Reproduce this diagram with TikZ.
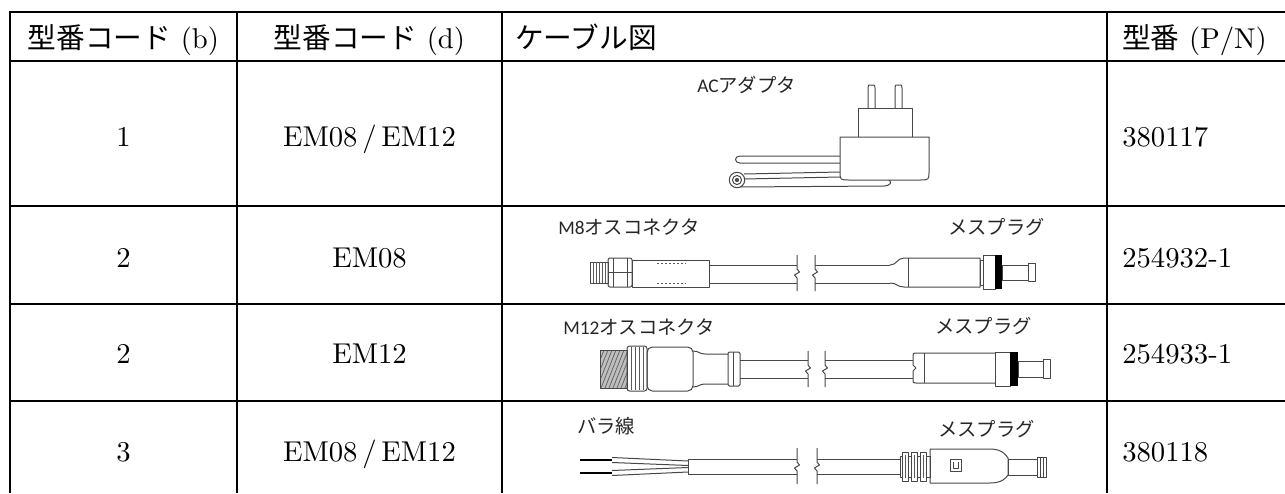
\documentclass[tikz,border=0pt]{standalone}
\usepackage{fontspec}
\setmainfont{lmroman10-regular.otf}
\newfontfamily\cjk{Noto Sans CJK JP}
\newfontfamily\lab{Carlito}
\tikzset{
  gridline/.style={line width=1.5pt, black},
  gl/.style={draw=black!72, line width=0.75pt, line join=round},
  tt/.style={font=\fontsize{21.5}{24}\selectfont, inner sep=0pt, anchor=base},
  lb/.style={font=\fontsize{14.5}{16}\selectfont\cjk, text=black!85, inner sep=0pt, anchor=base west},
  brk/.pic={\draw[gl] (0,-18) -- (0,-4) -- (2.5,-1) -- (-2.5,2) -- (0,5) -- (0,18);}
}
\begin{document}
\begin{tikzpicture}[x=0.75pt,y=-0.75pt]
\path[use as bounding box] (0,0) rectangle (1285,493);
\clip (0,0) rectangle (1285,493);
% ---------- table grid ----------
\foreach \y in {12,61,206,304,401} \draw[gridline] (9,\y) -- (1285,\y);
\foreach \x in {10,237,502,1107} \draw[gridline] (\x,11) -- (\x,493);
% ---------- header ----------
\node[tt] (h1) at (123.5,48) {{\cjk 型番コード} (b)};
\node[tt] (h2) at (369.5,48) {{\cjk 型番コード} (d)};
\node[tt, anchor=base west] (h3) at (515,48) {\cjk ケーブル図};
\node[tt, anchor=base west] (h4) at (1122,48) {{\cjk 型番} (P/N)};
% ---------- body text ----------
\node[tt] (r1a) at (123.5,146) {1};
\node[tt] (r1b) at (369.5,146) {EM08\,/\,EM12};
\node[tt, anchor=base west] (r1d) at (1122,146) {380117};
\node[tt] (r2a) at (123.5,267) {2};
\node[tt] (r2b) at (369.5,267) {EM08};
\node[tt, anchor=base west] (r2d) at (1122,267) {254932-1};
\node[tt] (r3a) at (123.5,363) {2};
\node[tt] (r3b) at (369.5,363) {EM12};
\node[tt, anchor=base west] (r3d) at (1122,363) {254933-1};
\node[tt] (r4a) at (123.5,461) {3};
\node[tt] (r4b) at (369.5,461) {EM08\,/\,EM12};
\node[tt, anchor=base west] (r4d) at (1122,461) {380118};
% ---------- drawing labels ----------
\node[lb] (l1) at (697,92) {{\lab AC}アダプタ};
\node[lb] (l2) at (558,234.5) {{\lab M8}オスコネクタ};
\node[lb] (l3) at (948,234.5) {メスプラグ};
\node[lb] (l4) at (563,334.5) {{\lab M12}オスコネクタ};
\node[lb] (l5) at (935,333.5) {メスプラグ};
\node[lb] (l6) at (577,433.5) {バラ線};
\node[lb] (l7) at (938,436.5) {メスプラグ};
% ---------- row 1: AC adapter ----------
\draw[gl] (868,108) -- (868,88) .. controls (868,85) .. (871.5,85) .. controls (875,85) .. (875,88) -- (875,108);
\draw[gl] (895,108) -- (895,88) .. controls (895,85) .. (898.5,85) .. controls (902,85) .. (902,88) -- (902,108);
\draw[gl] (858,137) -- (858,108) -- (912,108) -- (912,137);
\draw[gl] (840,137) -- (840,171) .. controls (840,180) .. (849,180) -- (920,180) .. controls (929,180) .. (929,171) -- (929,137) -- cycle;
\draw[gl] (840,156) -- (740,156) .. controls (734,156) and (734,163) .. (740,163) -- (840,163);
\draw[gl] (744,174) -- (840,172);
\draw[gl] (744,179) -- (840,177);
\draw[gl] (737,187) -- (884,186) .. controls (891,185.5) and (892,182) .. (889,180);
\draw[gl, fill=white] (737,180) circle[radius=5.8pt];
\draw[gl] (737,180) circle[radius=3.4pt];
\fill[black!70] (737,180) circle[radius=1.6pt];
% ---------- row 2: M8 cable ----------
\draw[gl] (590,262) rectangle (608,283);
\foreach \x in {593,596,599,602,605} \draw[black!65, line width=0.4pt] (\x,262) -- (\x,283);
\draw[gl, rounded corners=1.5] (608,258) rectangle (632,287);
\draw[gl] (613,258) -- (613,287) (627,258) -- (627,287) (608,272.5) -- (632,272.5);
\draw[gl] (632,260) rectangle (709,287);
\draw[black!65, line width=0.5pt, dash pattern=on 1.5pt off 1.5pt] (657,263.5) -- (686,263.5) (657,283.5) -- (686,283.5);
\draw[gl] (709,265) -- (797,265) (709,283) -- (797,283);
\pic at (797,273) {brk};
\pic at (815,273) {brk};
\draw[gl] (815,265) -- (890,265) (815,283) -- (890,283);
\draw[gl] (890,265) .. controls (897,265) and (897,258) .. (904,258) -- (980,258) -- (980,287) -- (904,287) .. controls (897,287) and (897,283) .. (890,283);
\draw[gl] (908,258) -- (908,287);
\draw[gl] (980,260) rectangle (983,285);
\draw[gl] (983,255) rectangle (995,289);
\fill[black] (995,255) rectangle (1002,289);
\draw[gl] (1002,265) rectangle (1028,280);
\draw[gl] (1028,263.5) rectangle (1035,281.5);
% ---------- row 3: M12 cable ----------
\fill[black!25] (600,350) rectangle (627,388);
\begin{scope}
\clip (600,350) rectangle (627,388);
\foreach \k in {0,4,...,64} \draw[black!60, line width=0.6pt] (\k+585,388) -- (\k+600,350);
\end{scope}
\draw[gl] (600,350) rectangle (627,388);
\draw[gl, rounded corners=2] (627,346) rectangle (647,391);
\foreach \x in {631,635,639,643} \draw[black!65, line width=0.5pt] (\x,347) -- (\x,390);
\draw[gl, rounded corners=4] (647,347) rectangle (693,391);
\draw[gl] (693,351) .. controls (699,351) and (699,354) .. (705,354) -- (728,354);
\draw[gl] (693,387) .. controls (699,387) and (699,384) .. (705,384) -- (728,384);
\draw[gl, rounded corners=1] (728,352) rectangle (740,386);
\draw[gl] (733,352) -- (733,386);
\draw[gl] (740,360) -- (808,360) (740,378) -- (808,378);
\pic at (808,369) {brk};
\pic at (825,369) {brk};
\draw[gl] (825,360) -- (913,360) (825,378) -- (913,378);
\draw[gl] (995,353) -- (916,353) .. controls (913,353) .. (913,356) -- (913,365) -- (916,368) -- (913,371) -- (913,380) .. controls (913,383) .. (916,383) -- (995,383);
\draw[gl] (924,353) -- (924,383);
\draw[gl] (995,352) rectangle (1010,386);
\fill[black] (1010,352) rectangle (1018,386);
\draw[gl] (1018,361) rectangle (1043,377);
\draw[gl] (1043,359.5) rectangle (1050,378.5);
% ---------- row 4: bare wires ----------
\draw[black, line width=2.2pt] (580,460) -- (612,460) (580,473) -- (612,473);
\draw[gl] (612,457.5) -- (688,461) (612,462.5) -- (688,465.5);
\draw[gl] (612,470.5) -- (688,467.5) (612,475.5) -- (688,472);
\draw[gl] (688,459) -- (797,459) (688,474) -- (797,474) (688,459) -- (688,474);
\pic at (797,466) {brk};
\pic at (817,466) {brk};
\draw[gl] (817,459) -- (900,459) (817,474) -- (900,474);
\draw[gl] (900,456) rectangle (930,477);
\foreach \x in {902,911,920} \draw[gl, fill=white] (\x,452) rectangle (\x+6,481);
\foreach \x in {905,914,923} \draw[black!65, line width=0.5pt] (\x,455) -- (\x,478);
\draw[gl] (930,449) -- (990,449) .. controls (1002,449) and (1006,455) .. (1008,458) -- (1008,475) .. controls (1006,478) and (1002,483) .. (990,483) -- (930,483) -- cycle;
\draw[gl] (950,459) rectangle (961,471);
\draw[gl] (953,462) -- (953,468) -- (958,468) -- (958,462);
\draw[gl] (1008,459) rectangle (1037,475);
\draw[gl] (1037,457) rectangle (1046,477);
\draw[gl] (1040,457) -- (1040,477) (1043,457) -- (1043,477);
\end{tikzpicture}
\end{document}
